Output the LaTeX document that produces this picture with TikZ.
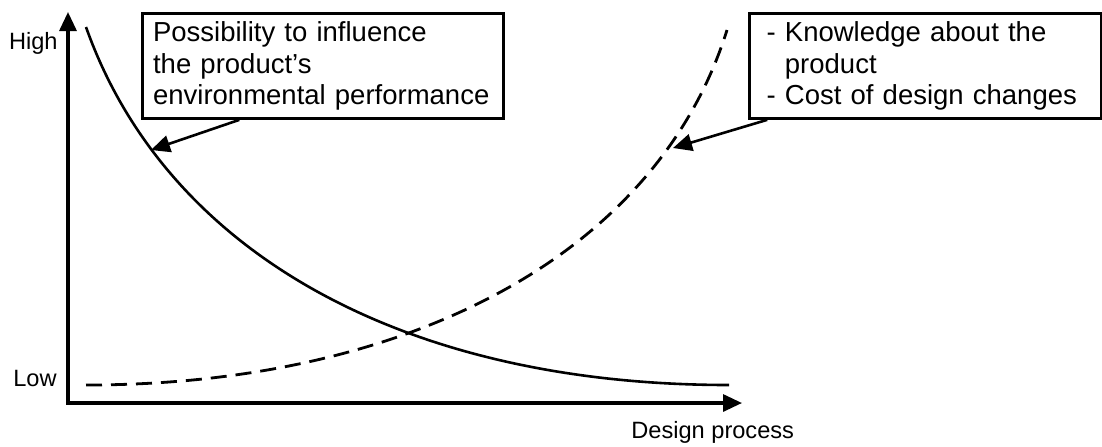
\documentclass[tikz,border=0pt]{standalone}
\usepackage{fontspec}
\setmainfont{Liberation Sans}
\usepackage{tikz}
\usetikzlibrary{arrows.meta,calc,positioning}

\begin{document}
\begin{tikzpicture}[x=0.5pt,y=-0.5pt,>={Triangle[length=9.5pt,width=8.5pt]}]
  \tikzstyle{every node}=[inner sep=0pt]
  \tikzstyle{axis}=[line width=1.6pt]
  \tikzstyle{curve}=[line width=1.3pt]
  \tikzstyle{pointer}=[line width=1.3pt]
  \tikzstyle{axlabel}=[font=\fontsize{11.8pt}{14pt}\selectfont]
  \tikzstyle{infobox}=[draw,line width=1.6pt,anchor=north west,align=left,inner ysep=4pt,font=\fontsize{13.75pt}{15.75pt}\selectfont]
  \useasboundingbox (0,0) rectangle (1102,446);
  % axes
  \coordinate (o) at (68,403);
  \coordinate (y_top) at (68,12);
  \coordinate (x_end) at (742,403);
  \draw[axis,<->] (y_top) -- (o) -- (x_end);
  \node[axlabel,anchor=east] (high) at (58,43) {High};
  \node[axlabel,anchor=east] (low) at (57,378) {Low};
  \node[axlabel,anchor=west] (process) at (631,432) {Design process};
  % curves
  \coordinate (infl_a) at (86,27);
  \coordinate (infl_b) at (729,385);
  \coordinate (know_a) at (86,385);
  \coordinate (know_b) at (727,30);
  \draw[curve] (infl_a) .. controls (165,250) and (400,385) .. (infl_b);
  \draw[curve,line width=1.4pt,dash pattern=on 8pt off 4.5pt] (know_a) .. controls (400,385) and (655,260) .. (know_b);
  \coordinate (infl) at (151,150);
  \coordinate (know) at (673,148);
  % boxes
  \node[infobox,text width=170pt,inner xsep=5.25pt] (box_l) at (141,12) {Possibility to influence\\the product’s\\environmental performance};
  \node[infobox,text width=159pt,inner xsep=8.5pt] (box_r) at (748,12) {- Knowledge about the\\\phantom{-} product\\- Cost of design changes};
  \path[->,pointer]
  ($(box_l.south west)!0.27!(box_l.south east)$) edge (infl)
  ($(box_r.south west)!0.054!(box_r.south east)$) edge (know)
  ;
\end{tikzpicture}
\end{document}
